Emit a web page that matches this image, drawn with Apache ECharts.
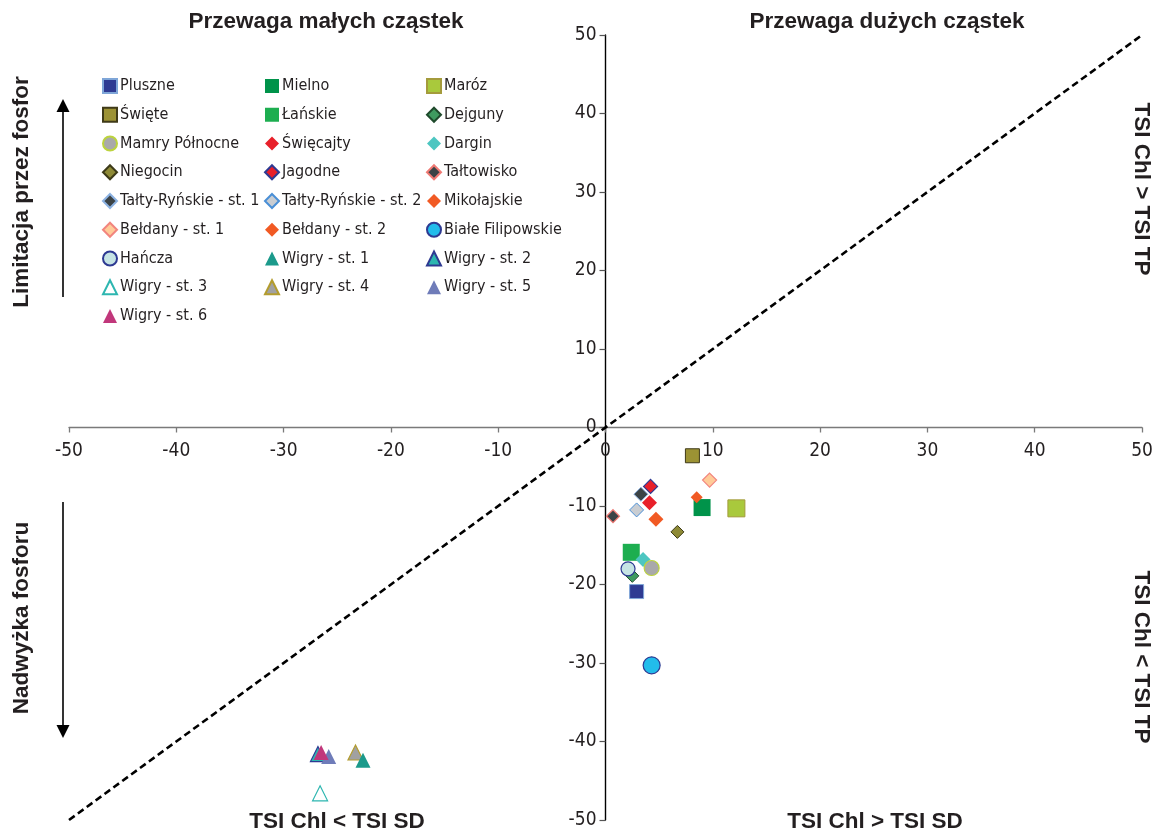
<!DOCTYPE html>
<html>
<head>
<meta charset="utf-8">
<script src="https://cdn.jsdelivr.net/npm/echarts@6/dist/echarts.min.js"></script>
<style>
  html, body { margin: 0; padding: 0; background: #fff; }
  #chart { width: 1167px; height: 839px; }
</style>
</head>
<body>
<div id="chart"></div>
<script>
// Lakes (row-major order of the 3-column legend)
const lakes = [
  'Pluszne', 'Mielno', 'Maróz',
  'Święte', 'Łańskie', 'Dejguny',
  'Mamry Północne', 'Święcajty', 'Dargin',
  'Niegocin', 'Jagodne', 'Tałtowisko',
  'Tałty-Ryńskie - st. 1', 'Tałty-Ryńskie - st. 2', 'Mikołajskie',
  'Bełdany - st. 1', 'Bełdany - st. 2', 'Białe Filipowskie',
  'Hańcza', 'Wigry - st. 1', 'Wigry - st. 2',
  'Wigry - st. 3', 'Wigry - st. 4', 'Wigry - st. 5',
  'Wigry - st. 6'
];
// TSI(Chl) - TSI(SD)
const devSD = [
  2.9, 9.0, 12.2,
  8.1, 2.4, 2.5,
  4.3, 4.1, 3.5,
  6.7, 4.2, 0.7,
  3.3, 2.9, 4.7,
  9.7, 8.5, 4.3,
  2.1, -22.6, -26.8,
  -26.6, -23.3, -25.8,
  -26.5
];
// TSI(Chl) - TSI(TP)
const devTP = [
  -20.9, -10.2, -10.3,
  -3.6, -15.9, -18.9,
  -17.9, -9.6, -16.8,
  -13.3, -7.5, -11.3,
  -8.5, -10.5, -11.7,
  -6.7, -8.9, -30.3,
  -18.0, -42.4, -41.6,
  -46.6, -41.4, -41.9,
  -41.4
];
const axisMin = -50;
const axisMax = 50;
const axisStep = 10;
// Reference line TSI(Chl)-TSI(TP) = TSI(Chl)-TSI(SD)
const diagonal = [[-50, -50], [50, 50]];

// Marker look per lake: [symbol, size, fill, border, borderWidth]
const looks = {
  'Pluszne':               ['rect', 14, '#2E3A92', '#7FA6D8', 1],
  'Mielno':                ['rect', 17, '#00934A', '#00934A', 0],
  'Maróz':                 ['rect', 17, '#A9C93C', '#A49B3C', 1],
  'Święte':                ['rect', 14, '#9C9234', '#3F3A18', 1],
  'Łańskie':               ['rect', 17, '#1DAE50', '#1DAE50', 0],
  'Dejguny':               ['diamond', 13, '#3F9B60', '#1F4A2C', 1],
  'Mamry Północne':        ['circle', 15, '#A9A9AA', '#BCD33E', 1.2],
  'Święcajty':             ['diamond', 15, '#E8202A', '#E8202A', 0],
  'Dargin':                ['diamond', 15, '#4DC6C1', '#4DC6C1', 0],
  'Niegocin':              ['diamond', 13, '#8E8A36', '#3D3A18', 1],
  'Jagodne':               ['diamond', 14, '#E8202A', '#2E3A92', 1.2],
  'Tałtowisko':            ['diamond', 13, '#3B4346', '#F07A74', 1.2],
  'Tałty-Ryńskie - st. 1': ['diamond', 14, '#3B4346', '#8CB2E2', 1],
  'Tałty-Ryńskie - st. 2': ['diamond', 14, '#C9CDD2', '#4A8FD6', 1],
  'Mikołajskie':           ['diamond', 15, '#F15A24', '#F15A24', 0],
  'Bełdany - st. 1':       ['diamond', 14, '#FFCB98', '#F2857E', 1.2],
  'Bełdany - st. 2':       ['diamond', 12, '#F15A24', '#F15A24', 0],
  'Białe Filipowskie':     ['circle', 17, '#22BCEB', '#2E3A92', 1.2],
  'Hańcza':                ['circle', 14, '#C6E4E4', '#2E3A92', 1.2],
  'Wigry - st. 1':         ['triangle', 15, '#1B9A8B', '#1B9A8B', 0],
  'Wigry - st. 2':         ['triangle', 15, '#2DB6B0', '#2E3A92', 1.2],
  'Wigry - st. 3':         ['triangle', 15, '#ffffff', '#2DB6B0', 1.2],
  'Wigry - st. 4':         ['triangle', 15, '#A1A1A1', '#B39C2E', 1.2],
  'Wigry - st. 5':         ['triangle', 15, '#6F7CB9', '#6F7CB9', 0],
  'Wigry - st. 6':         ['triangle', 15, '#C1377B', '#C1377B', 0]
};

// Painting order (later ones sit on top)
const drawOrder = [
  'Pluszne', 'Łańskie', 'Dejguny', 'Hańcza', 'Dargin', 'Mamry Północne',
  'Białe Filipowskie', 'Mielno', 'Bełdany - st. 2', 'Maróz', 'Święte',
  'Bełdany - st. 1', 'Jagodne', 'Tałty-Ryńskie - st. 1', 'Tałty-Ryńskie - st. 2',
  'Święcajty', 'Mikołajskie', 'Niegocin', 'Tałtowisko',
  'Wigry - st. 3', 'Wigry - st. 4', 'Wigry - st. 1', 'Wigry - st. 2',
  'Wigry - st. 5', 'Wigry - st. 6'
];

const FONT = "'DejaVu Sans Condensed', 'Liberation Sans Narrow', sans-serif";
const BOLD = "'Liberation Sans', Arial, sans-serif";
const INK = '#231F20';

// Plot area
const W = 1167, H = 839;
const gridBox = { left: 69, right: 25, top: 35, bottom: 19 };
const plotW = W - gridBox.left - gridBox.right;
const plotH = H - gridBox.top - gridBox.bottom;
// Axes cross at zero: shift each axis from the grid edge to the zero line
const zeroFrac = (0 - axisMin) / (axisMax - axisMin);

const scatterSeries = drawOrder.map(name => {
  const i = lakes.indexOf(name);
  const [symbol, size, fill, border, bw] = looks[name];
  return {
    name,
    type: 'scatter',
    symbol,
    symbolSize: size,
    itemStyle: { color: fill, borderColor: border, borderWidth: bw, opacity: 1 },
    emphasis: { disabled: true },
    z: 3,
    data: [[devSD[i], devTP[i]]]
  };
});

const lineSeries = {
  name: 'diagonal',
  type: 'line',
  data: diagonal,
  symbol: 'none',
  silent: true,
  lineStyle: { color: '#000', width: 2.6, type: [7, 4] },
  z: 2
};

// Three legend columns built from the row-major lake list
const legendCols = [0, 1, 2].map(c => lakes.filter((_, i) => i % 3 === c));
const legendLeft = [102, 264, 426];
const legends = legendCols.map((col, c) => ({
  data: col,
  orient: 'vertical',
  left: legendLeft[c],
  top: 78,
  padding: 0,
  itemWidth: 14,
  itemHeight: 14,
  itemGap: 12.75,
  selectedMode: false,
  textStyle: { fontFamily: FONT, fontSize: 16, lineHeight: 16, color: INK, padding: [0, 0, 0, -2] }
}));

function label(text, x, y, rot) {
  return {
    type: 'text', x, y, rotation: rot || 0,
    style: {
      text, fill: INK, font: 'bold 22.5px ' + BOLD,
      textAlign: 'center', textVerticalAlign: 'middle'
    }
  };
}

const graphics = [
  label('Przewaga małych cząstek', 326, 22),
  label('Przewaga dużych cząstek', 887, 22),
  label('TSI Chl < TSI SD', 337, 822),
  label('TSI Chl > TSI SD', 875, 822),
  label('TSI Chl > TSI TP', 1141, 189, -Math.PI / 2),
  label('TSI Chl < TSI TP', 1141, 657, -Math.PI / 2),
  label('Limitacja przez fosfor', 22, 192, Math.PI / 2),
  label('Nadwyżka fosforu', 22, 618, Math.PI / 2),
  { type: 'line', shape: { x1: 63, y1: 297, x2: 63, y2: 108 }, style: { stroke: '#000', lineWidth: 1.6 } },
  { type: 'polygon', shape: { points: [[63, 99], [56.5, 112], [69.5, 112]] }, style: { fill: '#000' } },
  { type: 'line', shape: { x1: 63, y1: 502, x2: 63, y2: 728 }, style: { stroke: '#000', lineWidth: 1.6 } },
  { type: 'polygon', shape: { points: [[63, 738], [56.5, 725], [69.5, 725]] }, style: { fill: '#000' } }
];

const chart = echarts.init(document.getElementById('chart'), null, { renderer: 'canvas' });
chart.setOption({
  animation: false,
  backgroundColor: '#fff',
  grid: Object.assign({ containLabel: false }, gridBox),
  legend: legends,
  xAxis: {
    type: 'value', min: axisMin, max: axisMax, interval: axisStep,
    position: 'bottom',
    offset: -plotH * zeroFrac,
    splitLine: { show: false },
    axisLine: { onZero: false, lineStyle: { color: '#7a7a7a', width: 1.3 } },
    axisTick: { length: 5, lineStyle: { color: '#7a7a7a', width: 1.3 } },
    axisLabel: { fontFamily: FONT, fontSize: 19, color: INK, margin: 14 }
  },
  yAxis: {
    type: 'value', min: axisMin, max: axisMax, interval: axisStep,
    position: 'left',
    offset: -plotW * zeroFrac,
    splitLine: { show: false },
    axisLine: { onZero: false, lineStyle: { color: '#000', width: 1.4 } },
    axisTick: { length: 6, lineStyle: { color: '#555', width: 1.2 } },
    axisLabel: { fontFamily: FONT, fontSize: 19, color: INK, margin: 9 }
  },
  series: [lineSeries, ...scatterSeries],
  graphic: graphics
});
</script>
</body>
</html>
